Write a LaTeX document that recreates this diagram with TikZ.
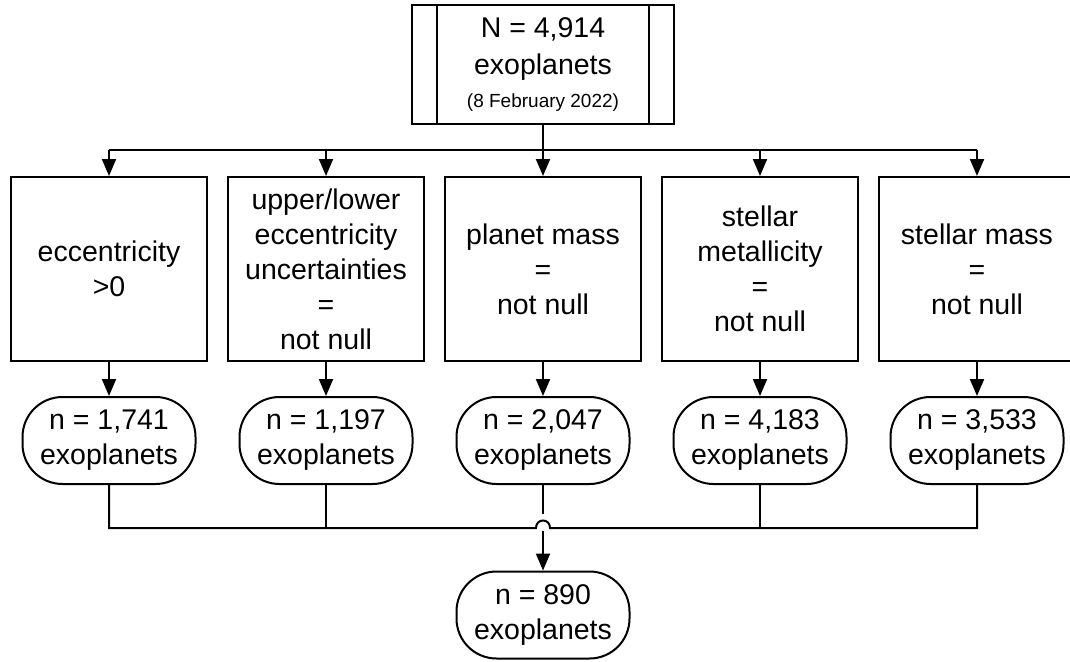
\documentclass[tikz,border=0pt]{standalone}
\usepackage{fontspec}
\setmainfont{Liberation Sans}
\usetikzlibrary{arrows.meta}
\tikzset{
  ln/.style={line width=2pt, draw=black},
  arr/.style={ln, -{Triangle[width=14pt,length=17pt]}},
  txt/.style={font=\fontsize{28.5}{35}\selectfont, align=center, inner sep=0pt},
  crit/.style={txt, ln, rectangle, minimum width=196pt, minimum height=184pt},
  res/.style={txt, ln, rectangle, rounded corners=40pt, minimum width=173pt, minimum height=87pt},
}
\begin{document}
\begin{tikzpicture}[x=1pt,y=-1pt]
\useasboundingbox (0,0) rectangle (1070,661);
\clip (0,0) rectangle (1070,661);
% top
\node[txt, ln, rectangle, minimum width=262pt, minimum height=118pt] (top) at (543,64.5)
  {N = 4,914\\[2pt]exoplanets\\[-2pt]{\fontsize{19}{22}\selectfont (8 February 2022)}};
\draw[ln] ([xshift=26pt]top.north west) -- ([xshift=26pt]top.south west);
\draw[ln] ([xshift=-26pt]top.north east) -- ([xshift=-26pt]top.south east);
% criteria
\node[crit] (b1) at (109,269) {eccentricity\\>0};
\node[crit] (b2) at (326,269) {upper/lower\\eccentricity\\uncertainties\\=\\not null};
\node[crit] (b3) at (543,269) {planet mass\\=\\not null};
\node[crit] (b4) at (760,269) {stellar\\metallicity\\=\\not null};
\node[crit] (b5) at (977,269) {stellar mass\\=\\not null};
% results
\node[res] (r1) at (109,440.5) {n = 1,741\\exoplanets};
\node[res] (r2) at (326,440.5) {n = 1,197\\exoplanets};
\node[res] (r3) at (543,440.5) {n = 2,047\\exoplanets};
\node[res] (r4) at (760,440.5) {n = 4,183\\exoplanets};
\node[res] (r5) at (977,440.5) {n = 3,533\\exoplanets};
\node[res] (fin) at (543,615) {n = 890\\exoplanets};
% branch
\coordinate (br) at (543,150);
\draw[ln] (b1.north |- br) -- (b5.north |- br);
\draw[arr] (top.south) -- (b3.north);
\draw[arr] (b1.north |- br) -- (b1.north);
\draw[arr] (b2.north |- br) -- (b2.north);
\draw[arr] (b4.north |- br) -- (b4.north);
\draw[arr] (b5.north |- br) -- (b5.north);
% criteria to results
\foreach \i in {1,...,5}{\draw[arr] (b\i.south) -- (r\i.north);}
% join
\coordinate (jn) at (543,528);
\draw[arr] (r3.south) -- (fin.north);
\draw[line width=4pt, white] (543,514) -- (543,531);
\draw[ln] (r1.south) -- (r1.south |- jn) -- (536,528) .. controls (536,518) and (550,518) .. (550,528) -- (r5.south |- jn) -- (r5.south);
\draw[ln] (r2.south) -- (r2.south |- jn);
\draw[ln] (r4.south) -- (r4.south |- jn);
\end{tikzpicture}
\end{document}
